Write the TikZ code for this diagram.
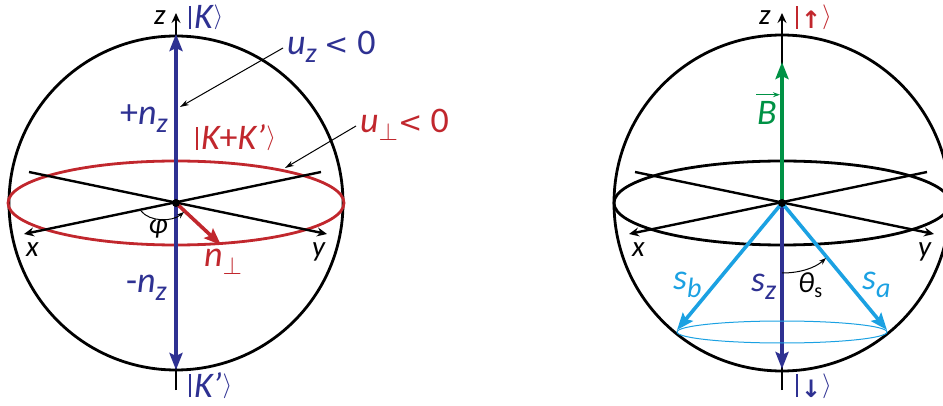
\documentclass[tikz,border=0pt]{standalone}
\usepackage{fontspec}
\setmainfont{Carlito}
\newfontfamily\dvs{DejaVu Sans}
\usetikzlibrary{arrows.meta}
\definecolor{knavy}{HTML}{2E3192}
\definecolor{kred}{HTML}{C1272D}
\definecolor{kgreen}{HTML}{009245}
\definecolor{kblue}{HTML}{1BA1E2}
\newcommand\lsub[1]{\raisebox{-8pt}{\fontsize{28}{28}\selectfont#1}}
\newcommand\rang{\kern1pt\raisebox{5pt}{\fontsize{25}{25}\selectfont$\rangle$}}
\newcommand\kbar{\rule{1.8pt}{23pt}\kern3pt}
\newcommand\lessthan{{\dvs\upshape\fontsize{29}{29}\selectfont <}}
\begin{document}
\begin{tikzpicture}[x=1pt,y=-1pt,
  sph/.style={line width=2.8pt},
  axisline/.style={line width=2.4pt,-{Stealth[length=10pt,width=9pt,inset=3.5pt]}},
  vecarrow/.style={line width=3.6pt,-{Stealth[length=17pt,width=13pt,inset=3pt]}},
  lbl/.style={inner sep=0pt,font=\fontsize{36}{40}\selectfont\itshape},
  axl/.style={inner sep=0pt,font=\fontsize{29}{32}\selectfont\itshape},
  leader/.style={line width=1pt,-{Stealth[length=9pt,width=5.5pt]}},
  anglearc/.style={line width=1pt,-{Stealth[length=7pt,width=5pt]}},
]
\useasboundingbox (0,0) rectangle (943,406);
% ---------------- left sphere ----------------
\coordinate (O1) at (176,203);
\draw[sph] (O1) circle[radius=167pt];
\draw[line width=2.8pt,kred] (O1) ellipse[x radius=168pt,y radius=42pt];
\coordinate (xb1) at (321,172); \coordinate (xf1) at (24,234);
\coordinate (yb1) at (29,172); \coordinate (yf1) at (327,234);
\draw[axisline] (xb1) -- (xf1);
\draw[axisline] (yb1) -- (yf1);
\coordinate (zb1) at (176,390); \coordinate (zt1) at (176,13);
\draw[axisline] (zb1) -- (zt1);
\coordinate (nzt) at (176,34); \coordinate (nzb) at (176,370);
\draw[vecarrow,knavy] (O1) -- (nzt);
\draw[vecarrow,knavy] (O1) -- (nzb);
\coordinate (np) at (221,245);
\draw[vecarrow,kred] (O1) -- (np);
\fill (O1) circle[radius=4pt];
\coordinate (phs) at (141,211); \coordinate (phe) at (184,212);
\draw[anglearc] (phs) .. controls (150,222) and (172,222) .. (phe);
\node[axl,anchor=base west] (z1) at (154,25) {z};
\node[lbl,anchor=base west,text=knavy] (K1) at (189,29) {\kbar K\rang};
\node[lbl,anchor=base west,text=knavy] (uz) at (287,55) {u\lsub{z} \lessthan\ {\upshape 0}};
\coordinate (uzt) at (180,107);
\draw[leader] ([xshift=-4pt,yshift=7pt]uz.base west) -- (uzt);
\node[lbl,anchor=base west,text=knavy] (pnz) at (120,125) {{\upshape+}n\lsub{z}};
\node[lbl,anchor=base west,text=kred] (KK) at (196,150) {\kbar K{\upshape+}K’\rang};
\node[lbl,anchor=base west,text=kred] (up) at (360,133) {u\lsub{$\perp$}\lessthan\ {\upshape 0}};
\coordinate (upt) at (285,168);
\draw[leader] ([xshift=-4pt,yshift=7pt]up.base west) -- (upt);
\node[axl] (phi) at (158,229) {φ};
\node[lbl,anchor=base west,text=kred] (npl) at (204,267) {n\lsub{$\perp$}};
\node[axl,anchor=base west] (x1) at (26,257) {x};
\node[axl,anchor=base west] (y1) at (312,257) {y};
\node[lbl,anchor=base west,text=knavy] (mnz) at (126,293) {{\upshape-}n\lsub{z}};
\node[lbl,anchor=base west,text=knavy] (K2) at (189,397) {\kbar K’\rang};
% ---------------- right sphere ----------------
\coordinate (O2) at (782,203);
\draw[sph] (O2) circle[radius=168pt];
\draw[sph] (O2) ellipse[x radius=168pt,y radius=42pt];
\coordinate (xb2) at (927,172); \coordinate (xf2) at (629,234);
\coordinate (yb2) at (635,172); \coordinate (yf2) at (934,234);
\draw[axisline] (xb2) -- (xf2);
\draw[axisline] (yb2) -- (yf2);
\coordinate (zb2) at (782,390); \coordinate (zt2) at (782,13);
\draw[axisline] (zb2) -- (zt2);
\coordinate (Bt) at (782,62);
\draw[vecarrow,kgreen] (O2) -- (Bt);
\coordinate (szb) at (782,369);
\draw[vecarrow,knavy] (O2) -- (szb);
\coordinate (sbt) at (677,330); \coordinate (sat) at (887,330);
\draw[vecarrow,kblue] (O2) -- (sbt);
\draw[vecarrow,kblue] (O2) -- (sat);
\coordinate (cone) at (782,332);
\draw[line width=1pt,kblue] (cone) ellipse[x radius=105pt,y radius=11pt];
\fill (O2) circle[radius=4pt];
\coordinate (ths) at (782,273); \coordinate (the) at (826,258);
\draw[anglearc] (ths) .. controls (800,273) and (815,268) .. (the);
\node[axl,anchor=base west] (z2) at (759,25) {z};
\node[lbl,anchor=base west,text=kred] (up2) at (796,29) {\kbar{\dvs\bfseries\fontsize{24}{24}\selectfont ↑}\rang};
\node[lbl,anchor=base west,text=kgreen] (B) at (757,125) {B};
\draw[kgreen,line width=1pt,-{Stealth[length=7pt,width=5pt]}] ([xshift=-1pt,yshift=7pt]B.north west) -- ([xshift=3pt,yshift=7pt]B.north east);
\node[axl,anchor=base west] (x2) at (632,257) {x};
\node[axl,anchor=base west] (y2) at (918,257) {y};
\node[lbl,anchor=base west,text=kblue] (sb) at (673,290) {s\lsub{b}};
\node[lbl,anchor=base west,text=knavy] (sz) at (751,292) {s\lsub{z}};
\node[axl,anchor=base west] (th) at (798,293) {θ\raisebox{-5pt}{\fontsize{20}{20}\selectfont\upshape s}};
\node[lbl,anchor=base west,text=kblue] (sa) at (862,290) {s\lsub{a}};
\node[lbl,anchor=base west,text=knavy] (dn) at (796,397) {\kbar{\dvs\bfseries\fontsize{24}{24}\selectfont ↓}\rang};
\end{tikzpicture}
\end{document}
